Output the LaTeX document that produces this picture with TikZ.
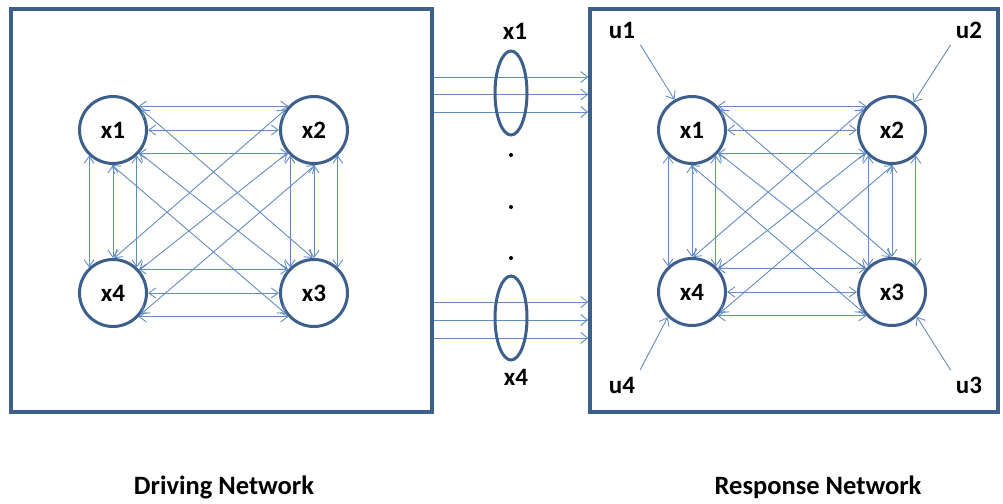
\documentclass[tikz,border=0pt]{standalone}
\usepackage{fontspec}
\setmainfont{Carlito}
\usetikzlibrary{arrows.meta,shapes.geometric}
\definecolor{outl}{HTML}{3D5F8C}
\definecolor{conn}{HTML}{628CC5}
\tikzset{
  netnode/.style={circle,draw=outl,line width=3pt,fill=white,minimum size=67pt,inner sep=0pt,font=\bfseries\fontsize{25}{25}\selectfont},
  frame/.style={draw=outl,line width=3.4pt,rectangle,inner sep=0pt},
  link/.style={draw=conn,line width=0.9pt,{Straight Barb[length=7pt,width=10pt]}-{Straight Barb[length=7pt,width=10pt]}},
  feed/.style={draw=conn,line width=0.9pt,-{Straight Barb[length=7pt,width=11pt]}},
  lbl/.style={font=\bfseries\fontsize{25}{25}\selectfont,inner sep=3pt},
  bundle/.style={ellipse,draw=outl,line width=3pt,minimum width=32pt,minimum height=84pt,inner sep=0pt},
  dotc/.style={circle,fill=black,inner sep=0pt,minimum size=4pt},
  title/.style={font=\bfseries\fontsize{26.5}{26.5}\selectfont}
}
\begin{document}
\begin{tikzpicture}[x=1pt,y=-1pt]
\useasboundingbox (0,0) rectangle (1003,503);
% frames
\node[frame,minimum width=421pt,minimum height=403pt] (LB) at (221.5,210.5) {};
\node[frame,minimum width=408pt,minimum height=403pt] (RB) at (794,210.5) {};
% driving network nodes
\node[netnode] (L1) at (113,130) {x1};
\node[netnode] (L2) at (314,130) {x2};
\node[netnode] (L4) at (113,293) {x4};
\node[netnode] (L3) at (314,293) {x3};
% response network nodes
\node[netnode] (R1) at (692,130) {x1};
\node[netnode] (R2) at (892,130) {x2};
\node[netnode] (R4) at (692,292) {x4};
\node[netnode] (R3) at (892,292) {x3};
% links in both networks
\foreach \p in {L,R}{
  \draw[link] (\p1.43) -- (\p2.137);
  \draw[link] (\p1.0) -- (\p2.180);
  \draw[link] (\p1.-43) -- (\p2.-137);
  \draw[link] (\p4.43) -- (\p3.137);
  \draw[link] (\p4.0) -- (\p3.180);
  \draw[link] (\p4.-43) -- (\p3.-137);
  \draw[link] (\p1.-133) -- (\p4.133);
  \draw[link] (\p1.-90) -- (\p4.90);
  \draw[link] (\p1.-47) -- (\p4.47);
  \draw[link] (\p2.-133) -- (\p3.133);
  \draw[link] (\p2.-90) -- (\p3.90);
  \draw[link] (\p2.-47) -- (\p3.47);
  \draw[link] (\p1.36) -- (\p3.92);
  \draw[link] (\p1.-41) -- (\p3.139);
  \draw[link] (\p1.-92) -- (\p3.-143);
  \draw[link] (\p2.144) -- (\p4.88);
  \draw[link] (\p2.-139) -- (\p4.41);
  \draw[link] (\p2.-88) -- (\p4.-37);
}
% coupling signals between the networks
\foreach \s in {133.5,116,98.5,-91.5,-109.5,-127.5}{
  \draw[feed] ([yshift=\s pt]LB.east) -- ([yshift=\s pt]RB.west);
}
\node[bundle] (E1) at (511,93) {};
\node[bundle] (E4) at (511,318) {};
\node[lbl] (b1) at (515,31) {x1};
\node[lbl] (b4) at (516,377) {x4};
\node[dotc] (d1) at (511,155) {};
\node[dotc] (d2) at (511,207) {};
\node[dotc] (d3) at (511,258) {};
% external inputs
\node[lbl] (u1) at (622,30) {u1};
\node[lbl] (u2) at (969,30) {u2};
\node[lbl] (u4) at (622,385) {u4};
\node[lbl] (u3) at (969,385) {u3};
\draw[feed,shorten <=4pt] (u1.south east) -- (R1.120);
\draw[feed,shorten <=4pt] (u2.south west) -- (R2.52);
\draw[feed,shorten <=4pt] (u4.north east) -- (R4.-134);
\draw[feed,shorten <=4pt] (u3.north west) -- (R3.-45);
% titles
\node[title] (tl) at (224,487) {Driving Network};
\node[title] (tr) at (818,487) {Response Network};
\end{tikzpicture}
\end{document}
